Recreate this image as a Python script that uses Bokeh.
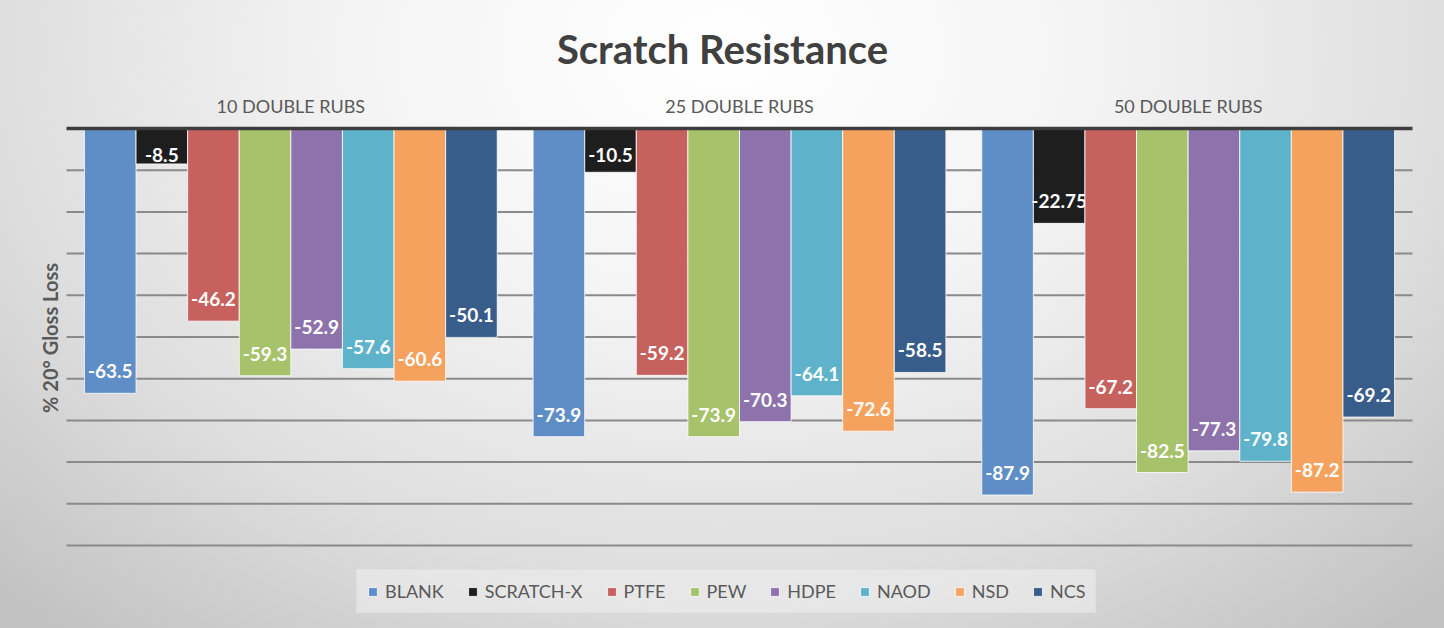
import math
import numpy as np
from bokeh.plotting import figure
from bokeh.models import ColumnDataSource, Range1d, Legend, LegendItem, Label
from bokeh.core.properties import value
from bokeh.embed import file_html
from bokeh.resources import INLINE

# ---------------- data ----------------
groups = ["10 DOUBLE RUBS", "25 DOUBLE RUBS", "50 DOUBLE RUBS"]
series = ["BLANK", "SCRATCH-X", "PTFE", "PEW", "HDPE", "NAOD", "NSD", "NCS"]
blank = [-63.5, -73.9, -87.9]
scratch_x = [-8.5, -10.5, -22.75]
ptfe = [-46.2, -59.2, -67.2]
pew = [-59.3, -73.9, -82.5]
hdpe = [-52.9, -70.3, -77.3]
naod = [-57.6, -64.1, -79.8]
nsd = [-60.6, -72.6, -87.2]
ncs = [-50.1, -58.5, -69.2]
grid_ticks = [-10, -20, -30, -40, -50, -60, -70, -80, -90, -100]
y_title = "% 20\u00b0 Gloss Loss"
chart_title = "Scratch Resistance"

values = [blank, scratch_x, ptfe, pew, hdpe, naod, nsd, ncs]
colors = ["#5F8DC6", "#1E1E1E", "#C6615E", "#A6C26A", "#8E72AC", "#5EB3CB", "#F4A25E", "#385D8A"]

# ---------------- geometry (pixels) ----------------
W, H = 1444, 628
PL, PR = 66, 1412          # plot area left / right
PT, PB = 128, 545          # value 0 / value -100
gp = (PR - PL) / len(groups)          # px per group
ppu = (PB - PT) / 100.0               # px per value unit
bar_w = 51.6 / gp

x_range = Range1d(-PL / gp, (W - PL) / gp)
y_range = Range1d(-(H - PT) / ppu, PT / ppu)

FONT = "Lato"
TXT = "#595959"

p = figure(width=W, height=H, x_range=x_range, y_range=y_range,
           x_axis_location=None, y_axis_location=None,
           output_backend="svg", toolbar_location=None,
           min_border=0)
p.styles = {"background": "radial-gradient(ellipse 72% 120% at 50% 8%, #ffffff 0%, #f4f4f4 35%, #dedede 70%, #c2c2c2 100%)"}
p.background_fill_color = None
p.border_fill_color = None
p.outline_line_color = None
p.xgrid.visible = False
p.ygrid.visible = False

n_g = len(groups)
gidx = np.arange(n_g)

# gridlines across the plot area
p.segment(x0=np.zeros(len(grid_ticks)), x1=np.full(len(grid_ticks), float(n_g)),
          y0=grid_ticks, y1=grid_ticks, line_color="#8a8a8a", line_width=2)

items = []
for j, (name, vals, col) in enumerate(zip(series, values, colors)):
    v = np.array(vals, dtype=float)
    L = -v * ppu
    off = np.minimum(22.0, L - 26.0)
    src = ColumnDataSource(dict(x=gidx + 0.5 + (j - 3.5) * bar_w, value=v,
                                zero=np.zeros_like(v), label_y=v + off / ppu,
                                label=[f"{x:g}" for x in v]))
    r = p.vbar(x="x", top="zero", bottom="value", width=bar_w, source=src,
               fill_color=col, line_color="#ffffff", line_alpha=0.8, line_width=1)
    p.text(x="x", y="label_y", text="label", source=src, text_align="center",
           text_baseline="middle", text_color="#ffffff", text_font_size="19px",
           text_font_style="bold", text_font=value(FONT))
    items.append(LegendItem(label=name, renderers=[r]))

# zero (category) axis line
p.segment(x0=[0.0], x1=[float(n_g)], y0=[0], y1=[0], line_color="#3d3d3d", line_width=3.5)

# group labels (category axis on top)
p.text(x=gidx + 0.5, y=np.full(n_g, (PT - 105.5) / ppu), text=groups,
       text_align="center", text_baseline="middle", text_color=TXT,
       text_font_size="18px", text_font=value(FONT))

# chart title
p.add_layout(Label(x=(722 - PL) / gp, y=(PT - 48.5) / ppu, text=chart_title,
                   text_align="center", text_baseline="middle", text_font=FONT,
                   text_font_size="40px", text_font_style="bold", text_color="#404040"))

# y-axis title
p.add_layout(Label(x=(49.5 - PL) / gp, y=(PT - 337.5) / ppu, text=y_title, angle=math.pi / 2,
                   text_align="center", text_baseline="middle", text_font=FONT,
                   text_font_size="20px", text_font_style="bold", text_color=TXT))

legend = Legend(items=items, orientation="horizontal", location=(356, 15),
                glyph_width=11, glyph_height=11, label_standoff=7, spacing=23, padding=10,
                label_text_font=FONT, label_text_font_size="18px", label_text_color=TXT,
                background_fill_color="#efefef", background_fill_alpha=0.6,
                border_line_color="#dcdcdc", border_line_width=1, margin=0)
p.add_layout(legend, "center")

open("out.html", "w").write(file_html(p, INLINE))
